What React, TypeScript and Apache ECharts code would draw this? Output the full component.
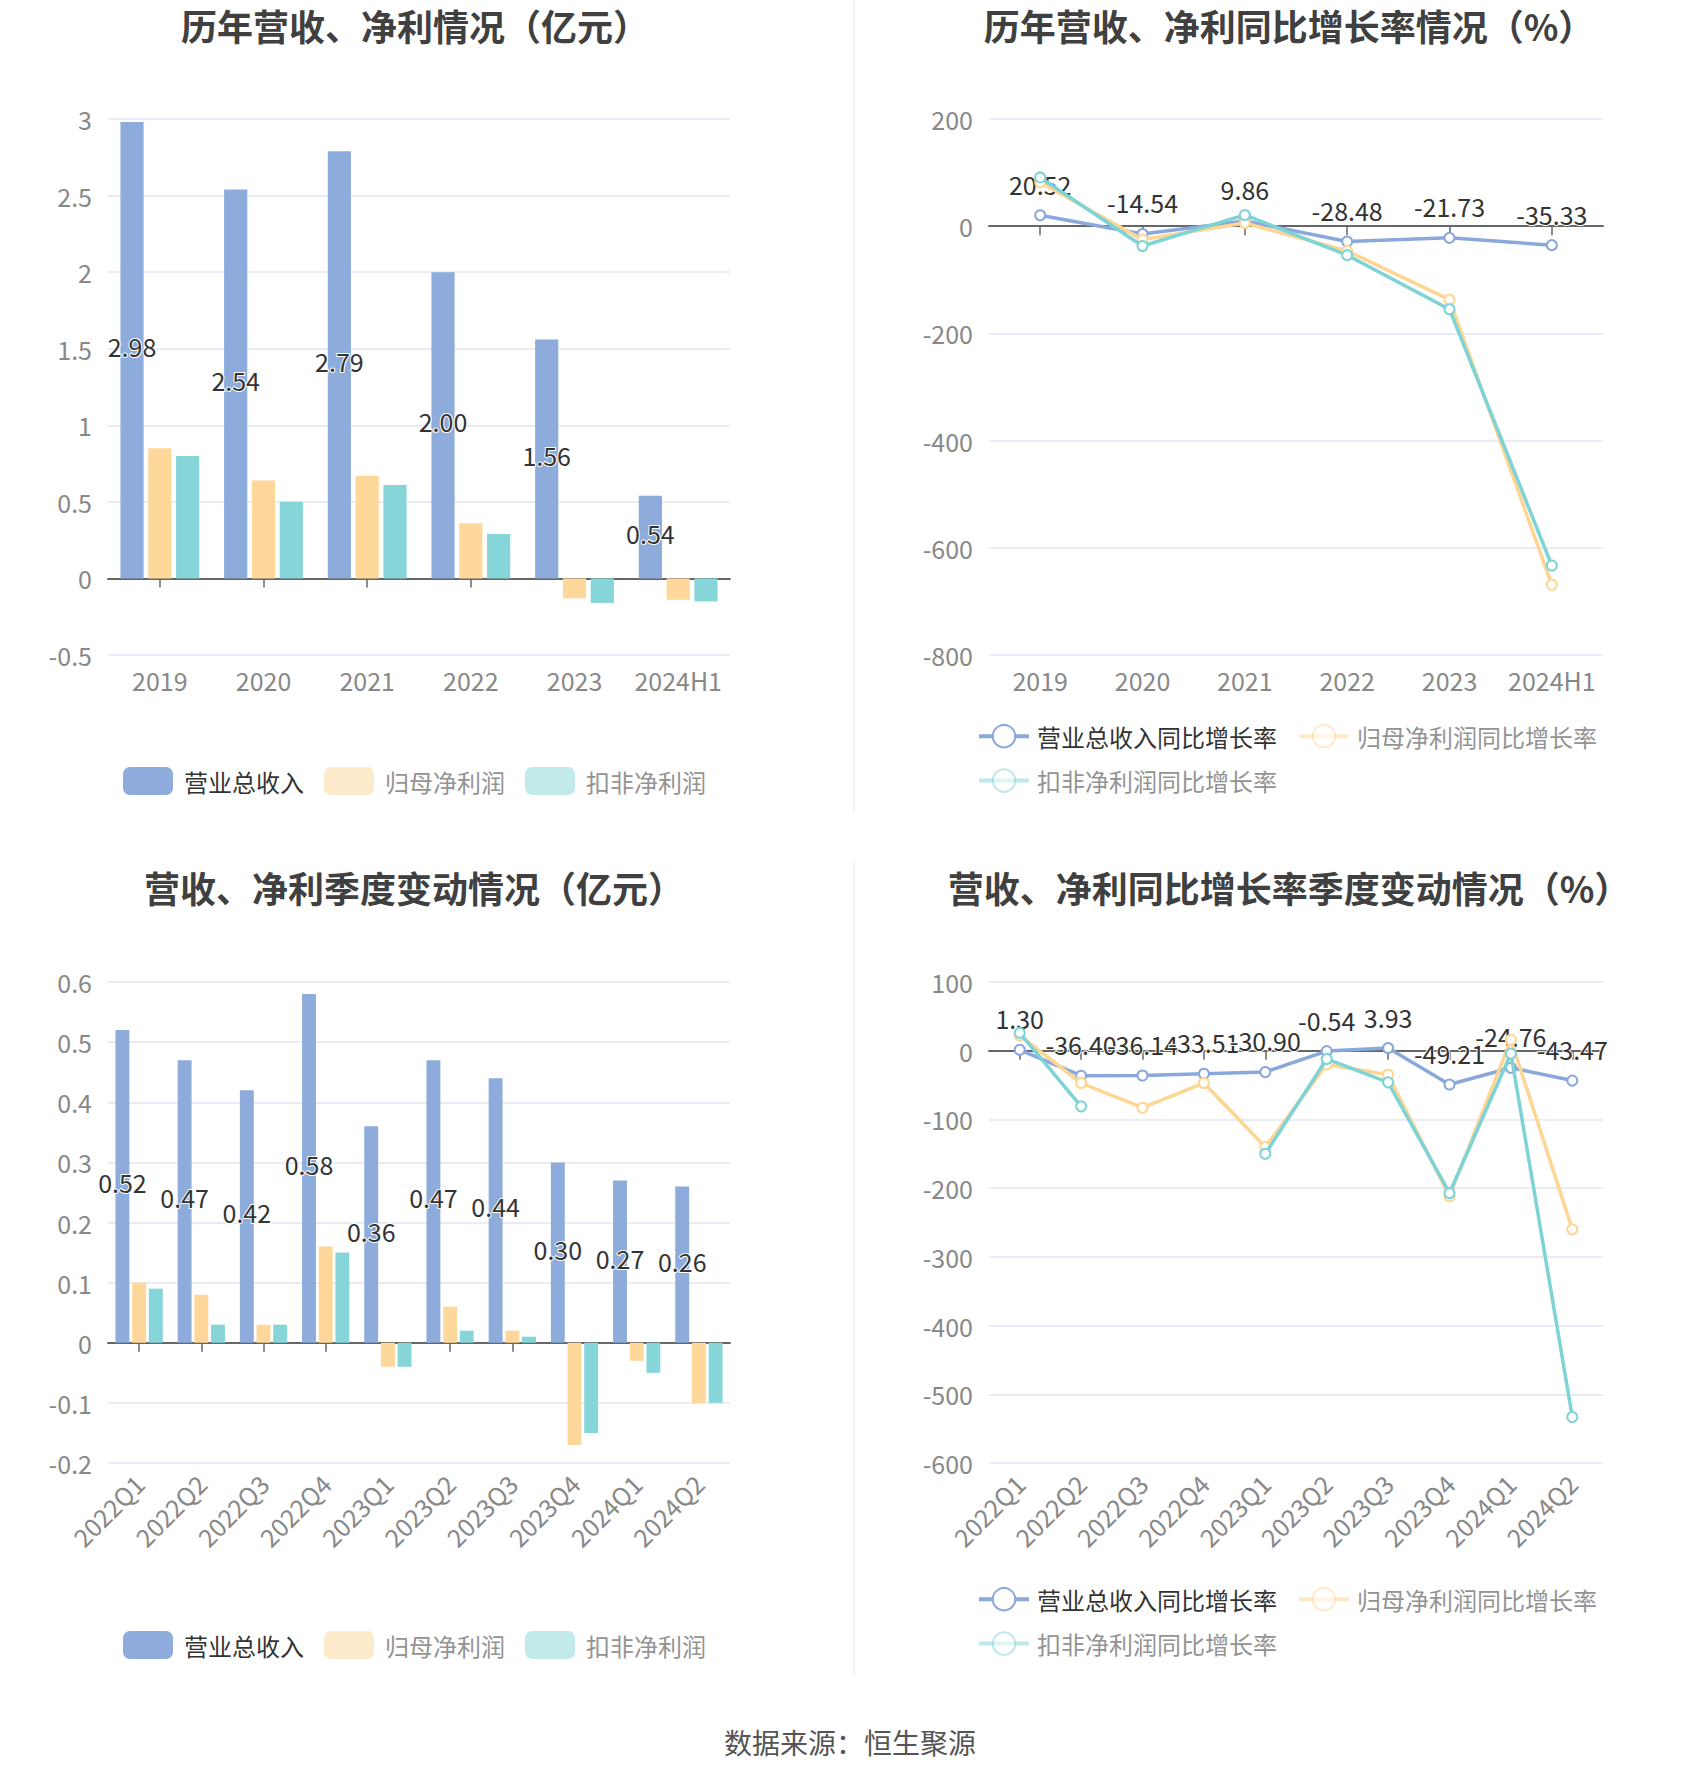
import React, { useEffect, useRef } from "react";
import * as echarts from "echarts";

// ---------- data ----------
const years = ["2019", "2020", "2021", "2022", "2023", "2024H1"];
const yearRevenue = [2.98, 2.54, 2.79, 2.0, 1.56, 0.54];
const yearProfit = [0.85, 0.64, 0.67, 0.36, -0.13, -0.14];
const yearDeducted = [0.8, 0.5, 0.61, 0.29, -0.16, -0.15];

const yearRevGrowth = [20.52, -14.54, 9.86, -28.48, -21.73, -35.33];
const yearProfitGrowth = [82, -25, 6, -46, -137, -669];
const yearDeductedGrowth = [91, -37, 21, -54, -155, -633];

const quarters = ["2022Q1", "2022Q2", "2022Q3", "2022Q4", "2023Q1", "2023Q2", "2023Q3", "2023Q4", "2024Q1", "2024Q2"];
const qRevenue = [0.52, 0.47, 0.42, 0.58, 0.36, 0.47, 0.44, 0.3, 0.27, 0.26];
const qProfit = [0.1, 0.08, 0.03, 0.16, -0.04, 0.06, 0.02, -0.17, -0.03, -0.1];
const qDeducted = [0.09, 0.03, 0.03, 0.15, -0.04, 0.02, 0.01, -0.15, -0.05, -0.1];

const qRevGrowth = [1.3, -36.4, -36.14, -33.51, -30.9, -0.54, 3.93, -49.21, -24.76, -43.47];
const qProfitGrowth = [22, -47, -83, -47, -140, -20, -35, -212, 16, -260];
const qDeductedGrowth = [26, -81, null, null, -150, -12, -46, -207, -4, -533];

const titles = [
  "历年营收、净利情况（亿元）",
  "历年营收、净利同比增长率情况（%）",
  "营收、净利季度变动情况（亿元）",
  "营收、净利同比增长率季度变动情况（%）",
];
const barNames = ["营业总收入", "归母净利润", "扣非净利润"];
const lineNames = ["营业总收入同比增长率", "归母净利润同比增长率", "扣非净利润同比增长率"];
const sourceText = "数据来源：恒生聚源";

// ---------- styles ----------
const FONT = '"Noto Sans CJK SC", "Noto Sans", sans-serif';
const BAR_COLORS = ["#8DACDB", "#FED79A", "#86D5D8"];
const LINE_COLORS = ["#8AA8DB", "#FED593", "#7ED3D6"];
const AXIS_LABEL = "#888888";
const NUM_SIZE = 25;

const grids = [
  { left: 108, top: 119, width: 622, height: 536 },
  { left: 989, top: 119, width: 614, height: 536 },
  { left: 108, top: 982, width: 622, height: 481 },
  { left: 989, top: 982, width: 614, height: 481 },
];

function xPair(gridIndex: number, cats: string[], rotate = 0) {
  return [
    {
      type: "category",
      gridIndex,
      data: cats,
      position: "bottom",
      axisLine: { show: false, onZero: false },
      axisTick: { show: false },
      axisLabel: {
        fontSize: NUM_SIZE,
        color: AXIS_LABEL,
        margin: rotate ? 16 : 12,
        rotate,
        interval: 0,
        fontFamily: FONT,
      },
      splitLine: { show: false },
    },
    {
      type: "category",
      gridIndex,
      data: cats,
      position: "top",
      axisLine: { show: true, onZero: true, lineStyle: { color: "#666", width: 2 } },
      axisTick: {
        show: true,
        alignWithLabel: true,
        inside: true,
        interval: 0,
        length: 9,
        lineStyle: { color: "#666", width: 1.5 },
      },
      axisLabel: { show: false },
      splitLine: { show: false },
    },
  ];
}

function yAxis(gridIndex: number, min: number, max: number, interval: number) {
  return {
    type: "value",
    gridIndex,
    min,
    max,
    interval,
    axisLine: { show: false },
    axisTick: { show: false },
    axisLabel: { fontSize: NUM_SIZE, color: AXIS_LABEL, margin: 16, fontFamily: FONT },
    splitLine: { lineStyle: { color: "#E0E6F1", width: 1.5 } },
  };
}

const valueLabel = {
  fontSize: NUM_SIZE,
  color: "#333",
  fontFamily: FONT,
  textBorderColor: "#fff",
  textBorderWidth: 2,
  formatter: (p: any) => (p.value == null ? "" : Number(p.value).toFixed(2)),
};

function barSeries(gridIndex: number, values: number[][]) {
  return values.map((data, i) => ({
    type: "bar",
    name: barNames[i],
    xAxisIndex: gridIndex * 2,
    yAxisIndex: gridIndex,
    data,
    barGap: "20%",
    barCategoryGap: "24%",
    itemStyle: { color: BAR_COLORS[i] },
    label:
      i === 0
        ? { show: true, position: "inside", offset: [0, -4], ...valueLabel }
        : { show: false },
  }));
}

function lineSeries(gridIndex: number, values: (number | null)[][]) {
  return values.map((data, i) => ({
    type: "line",
    name: lineNames[i],
    xAxisIndex: gridIndex * 2,
    yAxisIndex: gridIndex,
    data,
    symbol: "emptyCircle",
    symbolSize: 10,
    connectNulls: false,
    lineStyle: { width: 3.5, color: LINE_COLORS[i] },
    itemStyle: { color: LINE_COLORS[i], borderWidth: 3 },
    label: i === 0 ? { show: true, position: "top", distance: 13, ...valueLabel } : { show: false },
    z: 2 + i,
  }));
}

function legendData(names: string[], isLine: boolean) {
  return names.map((name, i) => {
    const base: any = { name };
    if (isLine) {
      base.itemStyle = { borderWidth: 3.5 };
      base.lineStyle = { width: 4 };
    }
    if (i === 0) {
      base.textStyle = { color: "#333" };
    } else {
      base.itemStyle = { ...(base.itemStyle || {}), opacity: 0.5 };
      base.lineStyle = { ...(base.lineStyle || {}), opacity: 0.5 };
      base.textStyle = { color: "#939393" };
    }
    return base;
  });
}

function barLegend(left: number, top: number) {
  return {
    left,
    top,
    padding: 0,
    orient: "horizontal",
    icon: "roundRect",
    itemWidth: 50,
    itemHeight: 28,
    itemGap: 20,
    selectedMode: false,
    textStyle: { fontSize: 24, fontFamily: FONT, padding: [0, 0, 0, 6] },
    data: legendData(barNames, false),
  };
}

function lineLegend(left: number, top: number) {
  return {
    left,
    top,
    width: 640,
    padding: 0,
    orient: "horizontal",
    itemWidth: 50,
    itemHeight: 28,
    itemGap: 20,
    selectedMode: false,
    textStyle: { fontSize: 24, fontFamily: FONT, padding: [0, 0, 0, 3] },
    data: legendData(lineNames, true),
  };
}

function titleAt(text: string, x: number, y: number) {
  return {
    text,
    left: x,
    top: y,
    padding: 0,
    textAlign: "center",
    textStyle: { fontSize: 36, fontWeight: "bold", color: "#404040", fontFamily: FONT },
  };
}

export default function App() {
  const ref = useRef<HTMLDivElement>(null);
  useEffect(() => {
    if (!ref.current) return;
    const chart = echarts.init(ref.current, undefined, { renderer: "svg" });
    const option: any = {
      animation: false,
      backgroundColor: "#ffffff",
      textStyle: { fontFamily: FONT },
      title: [
        titleAt(titles[0], 415, 7),
        titleAt(titles[1], 1289, 7),
        titleAt(titles[2], 414, 869),
        titleAt(titles[3], 1289, 869),
      ],
      legend: [
        barLegend(123, 767),
        lineLegend(977, 724),
        barLegend(123, 1631),
        lineLegend(977, 1587),
      ],
      grid: grids.map((g) => ({ ...g, containLabel: false })),
      xAxis: [
        ...xPair(0, years),
        ...xPair(1, years),
        ...xPair(2, quarters, 45),
        ...xPair(3, quarters, 45),
      ],
      yAxis: [
        yAxis(0, -0.5, 3, 0.5),
        yAxis(1, -800, 200, 200),
        yAxis(2, -0.2, 0.6, 0.1),
        yAxis(3, -600, 100, 100),
      ],
      series: [
        ...barSeries(0, [yearRevenue, yearProfit, yearDeducted]),
        ...lineSeries(1, [yearRevGrowth, yearProfitGrowth, yearDeductedGrowth]),
        ...barSeries(2, [qRevenue, qProfit, qDeducted]),
        ...lineSeries(3, [qRevGrowth, qProfitGrowth, qDeductedGrowth]),
      ],
      graphic: [
        { type: "line", shape: { x1: 854, y1: 0, x2: 854, y2: 813 }, style: { stroke: "#ececec", lineWidth: 1.5 } },
        { type: "line", shape: { x1: 854, y1: 862, x2: 854, y2: 1676 }, style: { stroke: "#ececec", lineWidth: 1.5 } },
        {
          type: "text",
          x: 850,
          y: 1742,
          style: {
            text: sourceText,
            fill: "#555",
            font: `28px ${FONT}`,
            textAlign: "center",
            textVerticalAlign: "middle",
          },
        },
      ],
    };
    chart.setOption(option);
    return () => chart.dispose();
  }, []);
  return (
    <div
      ref={ref}
      style={{ position: "absolute", left: 0, top: 0, width: 1700, height: 1782, background: "#fff" }}
    />
  );
}
